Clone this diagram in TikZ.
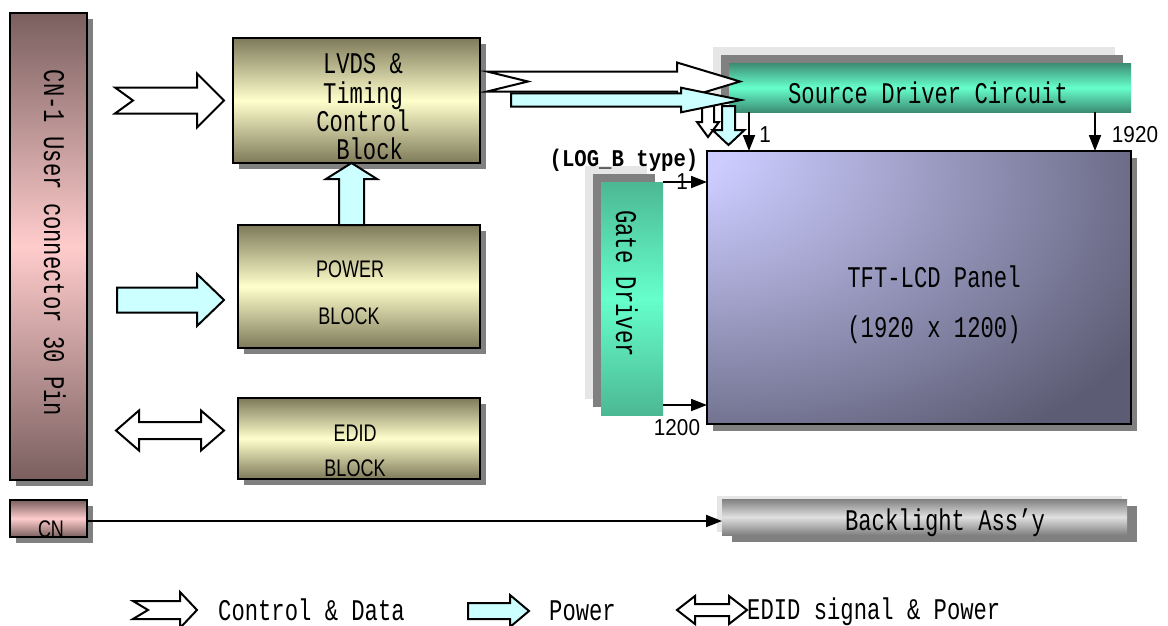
\documentclass[tikz,border=0pt]{standalone}
\usepackage{fontspec}
\usepackage{xcolor}
\usetikzlibrary{arrows.meta, calc, shadows, positioning}

\newfontfamily\monofont[FakeStretch=0.74]{Liberation Mono}
\newfontfamily\tagfont[FakeStretch=0.86]{Liberation Mono}
\newfontfamily\narrowfont[FakeStretch=0.75]{Liberation Sans}
\newfontfamily\numfont[FakeStretch=0.9]{Liberation Sans}

\definecolor{oliveDark}{HTML}{7E7A5A}
\definecolor{oliveLight}{HTML}{FFFFCC}
\definecolor{roseDark}{HTML}{7A5F5F}
\definecolor{roseLight}{HTML}{FFCCCC}
\definecolor{tealDark}{HTML}{3C8C72}
\definecolor{tealLight}{HTML}{66FFCC}
\definecolor{gateDark}{HTML}{4CB894}
\definecolor{greyDark}{HTML}{808080}
\definecolor{greyLight}{HTML}{E0E0E0}
\definecolor{shadowLight}{HTML}{E6E6E6}
\definecolor{powerCyan}{HTML}{CCFFFF}
\definecolor{panelLight}{HTML}{CCCCFF}
\definecolor{panelDark}{HTML}{5C5C74}

\pgfdeclareradialshading{panelshade}{\pgfpoint{-33bp}{28bp}}{color(0bp)=(panelLight); color(8bp)=(panelLight); color(52bp)=(panelDark); color(120bp)=(panelDark)}

% block arrows: style, tail, tip, notch, half body, half head, head length
\newcommand{\rarrow}[7]{%
  \draw[#1] ($(#2)+(0,-#5)$) -- ($(#3)+(-#7,-#5)$) -- ($(#3)+(-#7,-#6)$) -- (#3)
    -- ($(#3)+(-#7,#6)$) -- ($(#3)+(-#7,#5)$) -- ($(#2)+(0,#5)$) -- ($(#2)+(#4,0)$) -- cycle;}
% vertical: style, tail, tip, notch offset, half body, half head, head base offset
\newcommand{\varrow}[7]{%
  \draw[#1] ($(#2)+(-#5,0)$) -- ($(#3)+(-#5,#7)$) -- ($(#3)+(-#6,#7)$) -- (#3)
    -- ($(#3)+(#6,#7)$) -- ($(#3)+(#5,#7)$) -- ($(#2)+(#5,0)$) -- ($(#2)+(0,#4)$) -- cycle;}
% double: style, left tip, right tip, half body, half head, head length
\newcommand{\dblarrow}[6]{%
  \draw[#1] (#2) -- ($(#2)+(#6,-#5)$) -- ($(#2)+(#6,-#4)$) -- ($(#3)+(-#6,-#4)$) -- ($(#3)+(-#6,-#5)$)
    -- (#3) -- ($(#3)+(-#6,#5)$) -- ($(#3)+(-#6,#4)$) -- ($(#2)+(#6,#4)$) -- ($(#2)+(#6,#5)$) -- cycle;}

\tikzset{
  blockshadow/.style={drop shadow={shadow xshift=6pt, shadow yshift=-6pt, fill=greyDark, opacity=1}},
  stripshadow/.style={general shadow={shadow xshift=-16pt, shadow yshift=16pt, fill=shadowLight, opacity=1},
                      general shadow={shadow xshift=-8pt, shadow yshift=8pt, fill=greyDark, opacity=1}},
  box/.style={anchor=north west, inner sep=0pt, outer sep=0pt},
  block/.style={box, draw, line width=2.4pt, top color=oliveDark, bottom color=oliveDark, middle color=oliveLight, blockshadow},
  connbox/.style={box, draw, line width=2.4pt, top color=roseDark, bottom color=roseDark, middle color=roseLight, blockshadow},
  srcbox/.style={box, top color=tealDark, bottom color=tealDark, middle color=tealLight, stripshadow},
  gatebox/.style={box, top color=gateDark, bottom color=gateDark, middle color=tealLight, stripshadow},
  lampbox/.style={box, top color=greyDark, bottom color=greyDark, middle color=greyLight,
                  general shadow={shadow xshift=-5pt, shadow yshift=3pt, fill=shadowLight, opacity=1},
                  general shadow={shadow xshift=10pt, shadow yshift=-7pt, fill=greyDark, opacity=1}},
  panel/.style={box, draw, line width=2.4pt, shade, shading=panelshade,
                drop shadow={shadow xshift=6pt, shadow yshift=-7pt, fill=greyDark, opacity=1}},
  monotext/.style={font={\monofont\fontsize{30}{30}\selectfont}, inner sep=0pt, text height=20pt, text depth=0pt},
  blocktext/.style={font={\narrowfont\fontsize{24}{24}\selectfont}, inner sep=0pt, text height=17pt, text depth=0pt},
  numtext/.style={font={\numfont\fontsize{23}{23}\selectfont}, inner sep=0pt, text height=17pt, text depth=0pt},
  thinarrow/.style={line width=1.8pt, -{Triangle[length=16pt, width=12pt]}},
  hollow/.style={draw, fill=white, line width=2pt},
  powerarrow/.style={draw, fill=powerCyan, line width=2pt}
}

\begin{document}
\begin{tikzpicture}[x=1pt, y=-1pt]
  \fill[white] (0,0) rectangle (1168,625);
  \useasboundingbox (0,0) rectangle (1168,625);

  % connectors
  \node[connbox, minimum width=77, minimum height=467] (cn1) at (10,13) {};
  \node[connbox, minimum width=77, minimum height=37] (cn) at (10,500) {};

  % interface blocks
  \node[block, minimum width=247, minimum height=125] (lvds) at (233,38) {};
  \node[block, minimum width=242, minimum height=123] (power) at (238,225) {};
  \node[block, minimum width=242, minimum height=81] (edid) at (238,398) {};

  % panel side
  \node[srcbox, minimum width=402, minimum height=49] (src) at (729,63) {};
  \node[gatebox, minimum width=62, minimum height=233] (gate) at (601,182) {};
  \node[panel, minimum width=424, minimum height=273] (tft) at (707,151) {};
  \node[lampbox, minimum width=405, minimum height=36] (lamp) at (722,499) {};

  % texts
  \node[monotext, rotate=-90] (cn1txt) at (54,243) {CN-1 User connector 30 Pin};
  \node[blocktext] (cntxt) at (51,529) {CN};
  \node[monotext] (lvds1) at (363,63.5) {LVDS \&};
  \node[monotext] (lvds2) at (363,93) {Timing};
  \node[monotext] (lvds3) at (363,121) {Control};
  \node[monotext] (lvds4) at (363,149) {~Block};
  \node[blocktext] (power1) at (350,268.5) {POWER};
  \node[blocktext] (power2) at (349,315.5) {BLOCK};
  \node[blocktext] (edid1) at (355,432.5) {EDID};
  \node[blocktext] (edid2) at (355,467.5) {BLOCK};
  \node[monotext] (srctxt) at (928,93) {Source Driver Circuit};
  \node[monotext, rotate=-90] (gatetxt) at (626,283.5) {Gate Driver};
  \node[monotext] (tft1) at (934,277) {TFT-LCD Panel};
  \node[monotext] (tft2) at (934,327) {(1920 x 1200)};
  \node[monotext, font={\tagfont\bfseries\fontsize{24}{24}\selectfont}, text height=16pt] (logb) at (624,158) {(LOG\_B type)};
  \node[monotext] (lamptxt) at (945,520.5) {Backlight Ass’y};
  \node[numtext] (src1) at (765,134) {1};
  \node[numtext] (src1920) at (1135,134) {1920};
  \node[numtext] (gate1) at (682,181) {1};
  \node[numtext] (gate1200) at (677,427) {1200};

  % thin connections
  \draw[thinarrow] ($(src.south west)+(20,0)$) -- ($(tft.north west)+(42,0)$);
  \draw[thinarrow] ($(src.south west)+(366,0)$) -- ($(tft.north west)+(388,0)$);
  \draw[thinarrow] (gate.north east) -- (gate.north east -| tft.west);
  \coordinate (gateEnd) at ($(gate.south east)+(0,-10)$);
  \draw[thinarrow] (gateEnd) -- (gateEnd -| tft.west);
  \draw[thinarrow] ($(cn.east)+(0,2.5)$) -- ($(lamp.west)+(0,4)$);

  % block arrows
  \coordinate (cdTail) at (115,100.5);
  \coordinate (cdTip) at ($(lvds.west)+(-9,0)$);
  \rarrow{hollow}{cdTail}{cdTip}{18}{13}{27}{27}
  \coordinate (pwTail) at (117,300);
  \coordinate (pwTip) at ($(power.west)+(-14,13.5)$);
  \rarrow{powerarrow}{pwTail}{pwTip}{0}{12.5}{26}{27}
  \coordinate (edL) at (116,430.5);
  \coordinate (edR) at ($(edid.west)+(-14,-8)$);
  \dblarrow{hollow}{edL}{edR}{8.5}{20}{23}
  \coordinate (upTail) at ($(power.north)+(-7.5,0)$);
  \coordinate (upTip) at ($(lvds.south)+(-5,0)$);
  \varrow{powerarrow}{upTail}{upTip}{0}{12.5}{25.5}{16}

  \coordinate (dwTail) at (708,106);
  \coordinate (dwTip) at (708,137);
  \varrow{hollow}{dwTail}{dwTip}{0}{6}{11}{-15}
  \coordinate (dpTail) at (728.5,106);
  \coordinate (dpTip) at (728.5,145);
  \varrow{powerarrow}{dpTail}{dpTip}{0}{6.5}{16}{-15}

  \coordinate (sdTail) at ($(lvds.east)+(7,-19)$);
  \coordinate (sdTip) at ($(src.west)+(11,-6)$);
  \rarrow{hollow}{sdTail}{sdTip}{41}{10}{19}{63}
  \coordinate (spTail) at (511,100);
  \coordinate (spTip) at ($(src.west)+(12,12.5)$);
  \rarrow{powerarrow}{spTail}{spTip}{0}{6.7}{12.3}{60}

  % legend
  \coordinate (lgCtail) at (133,610);
  \coordinate (lgCtip) at (197,610);
  \rarrow{hollow}{lgCtail}{lgCtip}{15}{9}{18}{17}
  \node[monotext, right=21pt of lgCtip] (lgCtxt) {Control \& Data};
  \coordinate (lgPtail) at (468,611);
  \coordinate (lgPtip) at (529,611);
  \rarrow{powerarrow}{lgPtail}{lgPtip}{0}{8}{16}{19}
  \node[monotext, right=20pt of lgPtip, yshift=1pt] (lgPtxt) {Power};
  \coordinate (lgEl) at (677,610);
  \coordinate (lgEr) at (747,610);
  \dblarrow{hollow}{lgEl}{lgEr}{6}{14}{18}
  \node[monotext, right=0pt of lgEr, yshift=1pt] (lgEtxt) {EDID signal \& Power};
\end{tikzpicture}
\end{document}
